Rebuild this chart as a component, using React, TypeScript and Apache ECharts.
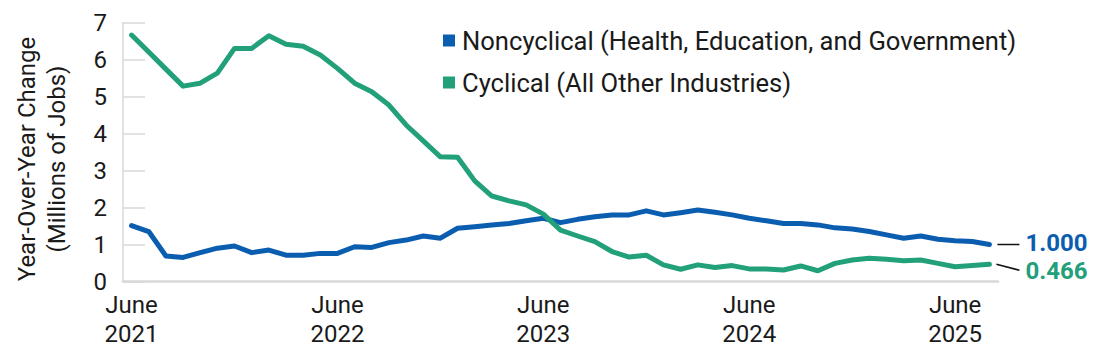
import React, { useEffect, useRef } from "react";
import * as echarts from "echarts";

const months = [
  "2021-06", "2021-07", "2021-08", "2021-09", "2021-10", "2021-11", "2021-12",
  "2022-01", "2022-02", "2022-03", "2022-04", "2022-05", "2022-06", "2022-07", "2022-08", "2022-09", "2022-10", "2022-11", "2022-12",
  "2023-01", "2023-02", "2023-03", "2023-04", "2023-05", "2023-06", "2023-07", "2023-08", "2023-09", "2023-10", "2023-11", "2023-12",
  "2024-01", "2024-02", "2024-03", "2024-04", "2024-05", "2024-06", "2024-07", "2024-08", "2024-09", "2024-10", "2024-11", "2024-12",
  "2025-01", "2025-02", "2025-03", "2025-04", "2025-05", "2025-06", "2025-07", "2025-08",
];

const noncyclical = [
  1.51, 1.35, 0.69, 0.65, 0.78, 0.9, 0.96,
  0.78, 0.85, 0.71, 0.71, 0.76, 0.76, 0.94, 0.92, 1.05, 1.12, 1.23, 1.17,
  1.44, 1.48, 1.53, 1.57, 1.64, 1.71, 1.59, 1.68, 1.75, 1.8, 1.8, 1.91,
  1.8, 1.86, 1.93, 1.87, 1.8, 1.71, 1.64, 1.57, 1.57, 1.53, 1.45, 1.42,
  1.35, 1.26, 1.17, 1.23, 1.14, 1.1, 1.08, 1.0,
];

const cyclical = [
  6.66, 6.2, 5.74, 5.28, 5.36, 5.63, 6.3,
  6.3, 6.64, 6.41, 6.36, 6.12, 5.76, 5.36, 5.13, 4.77, 4.23, 3.8, 3.37,
  3.36, 2.72, 2.31, 2.18, 2.07, 1.82, 1.39, 1.23, 1.08, 0.81, 0.66, 0.71,
  0.45, 0.33, 0.45, 0.38, 0.43, 0.34, 0.34, 0.31, 0.42, 0.29, 0.49, 0.58,
  0.63, 0.6, 0.56, 0.58, 0.49, 0.4, 0.43, 0.466,
];

const seriesNames = [
  "Noncyclical (Health, Education, and Government)",
  "Cyclical (All Other Industries)",
];

const yTitle = "Year-Over-Year Change\n(Millions of Jobs)";

const BLUE = "#0B5DB0";
const GREEN = "#22A07A";
const TEXT = "#1a1a1a";
const AXIS = "#d9d9d9";
const FONT = "Roboto, 'Noto Sans', sans-serif";

export default function App() {
  const ref = useRef<HTMLDivElement>(null);

  useEffect(() => {
    if (!ref.current) return;
    const chart = echarts.init(ref.current, undefined, { renderer: "svg" });
    const option: any = {
      animation: false,
      textStyle: { fontFamily: FONT },
      grid: { left: 123, right: 102, top: 22.5, bottom: 74.5, containLabel: false },
      legend: {
        orient: "vertical",
        left: 443,
        top: 27.5,
        padding: 0,
        itemWidth: 12,
        itemHeight: 12,
        itemGap: 16,
        icon: "rect",
        textStyle: { color: TEXT, fontSize: 25.6, lineHeight: 25, fontFamily: FONT, padding: [0, 0, 0, 2] },
        data: seriesNames,
      },
      xAxis: {
        type: "category",
        data: months,
        boundaryGap: true,
        axisLine: { show: true, lineStyle: { color: AXIS, width: 2.5 } },
        axisTick: { show: false },
        axisLabel: {
          interval: 11,
          color: TEXT,
          fontSize: 24,
          lineHeight: 29,
          margin: 9,
          fontFamily: FONT,
          formatter: (v: string) => {
            const [y, m] = v.split("-");
            return m === "06" ? `June\n${y}` : "";
          },
        },
        splitLine: { show: false },
      },
      yAxis: {
        type: "value",
        min: 0,
        max: 7,
        interval: 1,
        axisLine: { show: true, lineStyle: { color: AXIS, width: 1.5 } },
        axisTick: { show: true, inside: true, length: 22, lineStyle: { color: AXIS, width: 1.5 } },
        splitLine: { show: false },
        axisLabel: { color: TEXT, fontSize: 24, margin: 16, fontFamily: FONT },
      },
      series: [
        {
          name: seriesNames[0],
          type: "line",
          data: noncyclical,
          symbol: "none",
          lineStyle: { color: BLUE, width: 5, cap: "round", join: "round" },
          itemStyle: { color: BLUE },
          endLabel: {
            show: true,
            distance: 36,
            color: BLUE,
            fontSize: 24,
            fontWeight: "bold",
            fontFamily: FONT,
            offset: [0, -2],
            formatter: (p: any) => Number(p.value).toFixed(3),
          },
        },
        {
          name: seriesNames[1],
          type: "line",
          data: cyclical,
          symbol: "none",
          lineStyle: { color: GREEN, width: 5, cap: "round", join: "round" },
          itemStyle: { color: GREEN },
          endLabel: {
            show: true,
            distance: 36,
            color: GREEN,
            fontSize: 24,
            fontWeight: "bold",
            fontFamily: FONT,
            offset: [0, 7],
            formatter: (p: any) => Number(p.value).toFixed(3),
          },
        },
      ],
    };
    chart.setOption(option);

    const last = months.length - 1;
    const pb = chart.convertToPixel({ seriesIndex: 0 }, [last, noncyclical[last]]) as number[];
    const pg = chart.convertToPixel({ seriesIndex: 1 }, [last, cyclical[last]]) as number[];
    chart.setOption({
      graphic: [
        {
          type: "text",
          x: 42,
          y: 159,
          rotation: Math.PI / 2,
          style: {
            text: yTitle,
            fill: TEXT,
            fontSize: 24,
            lineHeight: 30,
            fontFamily: FONT,
            align: "center",
            verticalAlign: "middle",
          },
        },
        {
          type: "line",
          shape: { x1: pb[0] + 8, y1: pb[1], x2: pb[0] + 30, y2: pb[1] },
          style: { stroke: "#111", lineWidth: 1.5 },
        },
        {
          type: "line",
          shape: { x1: pg[0] + 7, y1: pg[1], x2: pg[0] + 30, y2: pg[1] + 6 },
          style: { stroke: "#111", lineWidth: 1.5 },
        },
      ],
    });

    return () => chart.dispose();
  }, []);

  return <div ref={ref} style={{ width: 1100, height: 356, margin: -8 }} />;
}
